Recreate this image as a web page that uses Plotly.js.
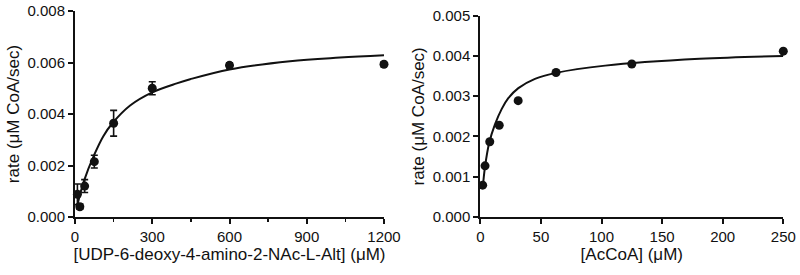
<!DOCTYPE html>
<html>
<head>
<meta charset="utf-8">
<script src="https://cdn.plot.ly/plotly-3.0.1.min.js"></script>
<style>html,body{margin:0;padding:0;background:#fff;}#chart{width:800px;height:275px;}</style>
</head>
<body>
<div id="chart"></div>
<script>
// Left panel: UDP-sugar substrate
const sugarConc = [9.375, 18.75, 37.5, 75, 150, 300, 600, 1200];
const sugarRate = [0.00088, 0.0004, 0.0012, 0.00215, 0.00364, 0.0050, 0.00589, 0.00593];
const sugarErr  = [0.0004, 0.0001, 0.00025, 0.00025, 0.0005, 0.00025, 0.0001, 0.0001];
const sugarFitX = [9.4, 36, 74, 110, 146, 214, 300, 395, 447, 600, 835, 1029, 1200];
const sugarFitY = [0.00048, 0.00143, 0.00240, 0.00314, 0.00365, 0.00433, 0.00484, 0.00519, 0.00535, 0.00573, 0.00605, 0.00619, 0.00628];
const sugarXTicks = [0, 300, 600, 900, 1200];
const sugarYTicks = [0, 0.002, 0.004, 0.006, 0.008];

// Right panel: AcCoA substrate
const acoaConc = [1.95, 3.9, 7.8, 15.6, 31.25, 62.5, 125, 250];
const acoaRate = [0.00079, 0.00127, 0.00187, 0.00228, 0.00289, 0.00359, 0.0038, 0.00412];
const acoaFitX = [1.95, 3.9, 7.4, 12.1, 17.6, 23.1, 31.4, 45.1, 62.5, 103, 181, 250];
const acoaFitY = [0.0007, 0.00125, 0.00185, 0.0023, 0.00268, 0.00295, 0.0032, 0.00343, 0.00358, 0.00376, 0.00393, 0.0040];
const acoaXTicks = [0, 50, 100, 150, 200, 250];
const acoaYTicks = [0, 0.001, 0.002, 0.003, 0.004, 0.005];

const ink = '#111';
const tickFont = {family: 'Liberation Sans, Arial, sans-serif', size: 15, color: ink};
const titleFont = {family: 'Liberation Sans, Arial, sans-serif', size: 17, color: ink};

const traces = [
  {x: sugarFitX, y: sugarFitY, mode: 'lines', line: {color: ink, width: 2, shape: 'spline', smoothing: 1}, xaxis: 'x', yaxis: 'y', hoverinfo: 'skip', cliponaxis: false},
  {x: sugarConc, y: sugarRate, mode: 'markers', marker: {color: ink, size: 9},
   error_y: {type: 'data', array: sugarErr, visible: true, color: ink, thickness: 1.6, width: 3.5},
   xaxis: 'x', yaxis: 'y', cliponaxis: false},
  {x: acoaFitX, y: acoaFitY, mode: 'lines', line: {color: ink, width: 2, shape: 'spline', smoothing: 1}, xaxis: 'x2', yaxis: 'y2', hoverinfo: 'skip', cliponaxis: false},
  {x: acoaConc, y: acoaRate, mode: 'markers', marker: {color: ink, size: 9}, xaxis: 'x2', yaxis: 'y2', cliponaxis: false}
];

const axisBase = {
  showline: true, linecolor: ink, linewidth: 2, mirror: false,
  ticks: 'outside', ticklen: 5, tickwidth: 2, tickcolor: ink,
  showgrid: false, zeroline: false, tickfont: tickFont, fixedrange: true
};

const layout = {
  width: 800, height: 275,
  margin: {l: 0, r: 0, t: 0, b: 0},
  paper_bgcolor: '#fff', plot_bgcolor: '#fff',
  showlegend: false, font: tickFont,
  xaxis: Object.assign({}, axisBase, {
    domain: [75/800, 384/800], range: [0, 1200], anchor: 'y',
    tickvals: sugarXTicks, ticktext: sugarXTicks.map(String),
    minor: {tickvals: [150, 450, 750, 1050], ticks: 'outside', ticklen: 3, tickwidth: 1.5, tickcolor: ink},
    title: {text: '[UDP-6-deoxy-4-amino-2-NAc-L-Alt] (μM)', font: titleFont, standoff: 4}
  }),
  yaxis: Object.assign({}, axisBase, {
    domain: [(275-217)/275, (275-11)/275], range: [0, 0.008], anchor: 'x',
    tickvals: sugarYTicks, ticktext: sugarYTicks.map(v => v.toFixed(3)),
    title: {text: 'rate (μM CoA/sec)', font: titleFont, standoff: 4}
  }),
  xaxis2: Object.assign({}, axisBase, {
    domain: [480.3/800, 783.3/800], range: [0, 250], anchor: 'y2',
    tickvals: acoaXTicks, ticktext: acoaXTicks.map(String),
    title: {text: '[AcCoA] (μM)', font: titleFont, standoff: 4}
  }),
  yaxis2: Object.assign({}, axisBase, {
    domain: [(275-217)/275, (275-15.7)/275], range: [0, 0.005], anchor: 'x2',
    tickvals: acoaYTicks, ticktext: acoaYTicks.map(v => v.toFixed(3)),
    title: {text: 'rate (μM CoA/sec)', font: titleFont, standoff: 4}
  })
};

Plotly.newPlot('chart', traces, layout, {displayModeBar: false, staticPlot: true});
</script>
</body>
</html>
